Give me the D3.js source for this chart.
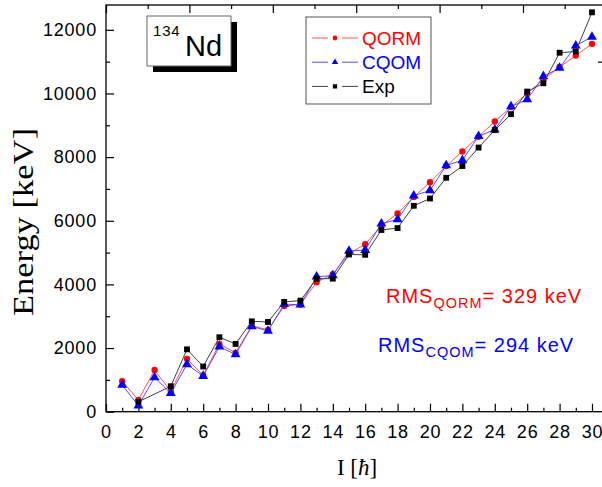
<!DOCTYPE html>
<html>
<head>
<meta charset="utf-8">
<script src="https://cdn.jsdelivr.net/npm/d3@7"></script>
<style>
  body { margin: 0; background: #fff; }
  svg text { font-family: "Liberation Sans", Arial, sans-serif; }
</style>
</head>
<body>
<div id="chart"></div>
<script>
// spin values
const spinsQORM = d3.range(1, 31);
const spinsCQOM = d3.range(1, 31);
const spinsExp = [2, 4, 5, 6, 7, 8, 9, 10, 11, 12, 13, 14, 15, 16, 17, 18, 19, 20,
                  21, 22, 23, 24, 25, 26, 27, 28, 29, 30];

// energies (keV)
const qorm = [960, 370, 1310, 640, 1660, 1140, 2130, 1850, 2700, 2570,
              3320, 3370, 4070, 4320, 4970, 5260, 5850, 6230, 6750, 7210,
              7720, 8180, 8640, 9120, 9570, 10000, 10430, 10830, 11190, 11560];
const cqom = [840, 190, 1080, 580, 1490, 1120, 2040, 1800, 2680, 2540,
              3380, 3360, 4240, 4280, 5050, 5080, 5910, 6040, 6790, 6950,
              7740, 7900, 8660, 8860, 9590, 9810, 10540, 10800, 11500, 11780];
const expE = [310, 800, 1960, 1420, 2340, 2130, 2840, 2820, 3450, 3490,
              4180, 4180, 4940, 4930, 5710, 5770, 6470, 6700, 7350, 7720,
              8300, 8850, 9350, 10060, 10320, 11280, 11320, 12550];

const yTicks = [0, 2000, 4000, 6000, 8000, 10000, 12000];
const xTicks = d3.range(0, 31, 2);

const width = 602, height = 487;
const mLeft = 106, mRight = 603, mTop = 5, mBottom = 411.7;

const svg = d3.select("#chart").append("svg")
    .attr("width", width)
    .attr("height", height);

const x = d3.scaleLinear().domain([0, 30.68]).range([mLeft, mRight]);
const y = d3.scaleLinear().domain([0, 12780]).range([mBottom, mTop]);
const xTop = d3.scaleLinear().domain([0, (mRight - mLeft) / 41.7]).range([mLeft, mRight]);

// frame
svg.append("rect")
    .attr("x", mLeft).attr("y", mTop)
    .attr("width", mRight - mLeft).attr("height", mBottom - mTop)
    .attr("fill", "none").attr("stroke", "#000").attr("stroke-width", 1.3);

// bottom axis
svg.append("g")
    .attr("transform", `translate(0,${mBottom})`)
    .call(d3.axisBottom(x).tickValues(xTicks).tickSize(-8).tickPadding(14).tickFormat(d3.format("d")));
svg.append("g")
    .attr("transform", `translate(0,${mBottom})`)
    .call(d3.axisBottom(x).tickValues(d3.range(1, 31, 2)).tickSize(-4).tickFormat(""));

// left axis
svg.append("g")
    .attr("transform", `translate(${mLeft},0)`)
    .call(d3.axisLeft(y).tickValues(yTicks).tickSize(-8).tickPadding(9).tickFormat(d3.format("d")));
svg.append("g")
    .attr("transform", `translate(${mLeft},0)`)
    .call(d3.axisLeft(y).tickValues(d3.range(1000, 12001, 2000)).tickSize(-4).tickFormat(""));

// top axis
svg.append("g")
    .attr("transform", `translate(0,${mTop})`)
    .call(d3.axisTop(xTop).tickValues(d3.range(0, 12, 2)).tickSize(-8).tickFormat(""));
svg.append("g")
    .attr("transform", `translate(0,${mTop})`)
    .call(d3.axisTop(xTop).tickValues(d3.range(1, 12, 2)).tickSize(-4).tickFormat(""));

// right axis tick
svg.append("g")
    .attr("transform", `translate(${mRight},0)`)
    .call(d3.axisRight(y).tickValues([11000]).tickSize(-5).tickFormat(""));

svg.selectAll(".domain").remove();
svg.selectAll(".tick line").attr("stroke", "#000").attr("stroke-width", 1.2);
svg.selectAll(".tick text").attr("font-size", 18).attr("fill", "#000")
    .style("font-family", "Liberation Sans, Arial, sans-serif")
    .attr("letter-spacing", 0.8);

// axis titles
svg.append("text")
    .attr("x", 357).attr("y", 475)
    .attr("text-anchor", "middle")
    .style("font-family", "Liberation Serif, Times New Roman, serif")
    .attr("font-size", 23)
    .html('I [<tspan font-style="italic">ħ</tspan>]');

svg.append("text")
    .attr("transform", "translate(33,222) rotate(-90)")
    .attr("text-anchor", "middle")
    .style("font-family", "Liberation Serif, Times New Roman, serif")
    .attr("font-size", 29)
    .attr("textLength", 188)
    .attr("lengthAdjust", "spacingAndGlyphs")
    .text("Energy [keV]");

// series
const series = [
    {name: "QORM", spins: spinsQORM, vals: qorm, color: "#ff0000", line: "#ff5050", shape: d3.symbolCircle, size: 32},
    {name: "CQOM", spins: spinsCQOM, vals: cqom, color: "#0000ff", line: "#5050ff", shape: d3.symbolTriangle, size: 42},
    {name: "Exp", spins: spinsExp, vals: expE, color: "#000000", line: "#404040", shape: d3.symbolSquare, size: 34}
];

const line = d3.line().x(d => x(d[0])).y(d => y(d[1]));

series.forEach(s => {
    const pts = s.spins.map((k, i) => [k, s.vals[i]]);
    svg.append("path")
        .datum(pts)
        .attr("d", line)
        .attr("fill", "none")
        .attr("stroke", s.line)
        .attr("stroke-width", 1);
    svg.selectAll(null)
        .data(pts)
        .enter()
        .append("path")
        .attr("transform", d => `translate(${x(d[0])},${y(d[1])})`)
        .attr("d", d3.symbol().type(s.shape).size(s.size))
        .attr("fill", s.color);
});

// legend
const lg = svg.append("g");
lg.append("rect")
    .attr("x", 306).attr("y", 17).attr("width", 125).attr("height", 87)
    .attr("fill", "#fff").attr("stroke", "#555").attr("stroke-width", 1);
series.forEach((s, i) => {
    const cy = 38 + i * 24.2;
    lg.append("line").attr("x1", 312).attr("x2", 328).attr("y1", cy).attr("y2", cy)
        .attr("stroke", s.line).attr("stroke-width", 1);
    lg.append("line").attr("x1", 342).attr("x2", 358).attr("y1", cy).attr("y2", cy)
        .attr("stroke", s.line).attr("stroke-width", 1);
    lg.append("path")
        .attr("transform", `translate(335,${cy})`)
        .attr("d", d3.symbol().type(s.shape).size(18))
        .attr("fill", s.color);
    lg.append("text")
        .attr("x", 362).attr("y", cy + 7)
        .attr("font-size", 19)
        .attr("fill", s.color)
        .text(s.name);
});

// nucleus label
svg.append("rect")
    .attr("x", 153).attr("y", 22).attr("width", 84).attr("height", 50)
    .attr("fill", "#000");
svg.append("rect")
    .attr("x", 147).attr("y", 16).attr("width", 84).attr("height", 50)
    .attr("fill", "#fff").attr("stroke", "#666").attr("stroke-width", 1);
svg.append("text")
    .attr("x", 153).attr("y", 36)
    .attr("font-size", 15)
    .attr("letter-spacing", 0.8)
    .text("134");
svg.append("text")
    .attr("x", 185).attr("y", 56)
    .attr("font-size", 29)
    .text("Nd");

// RMS annotations
const rms = [
    {sub: "QORM", val: "= 329 keV", color: "#ff0000", x: 386, y: 303},
    {sub: "CQOM", val: "= 294 keV", color: "#0000ff", x: 378, y: 352}
];
rms.forEach(r => {
    const t = svg.append("text")
        .attr("x", r.x).attr("y", r.y)
        .attr("font-size", 20)
        .attr("letter-spacing", 1)
        .attr("fill", r.color);
    t.append("tspan").text("RMS");
    t.append("tspan").attr("font-size", 14.5).attr("dy", 5).text(r.sub);
    t.append("tspan").attr("dy", -5).text(r.val);
});
</script>
</body>
</html>
